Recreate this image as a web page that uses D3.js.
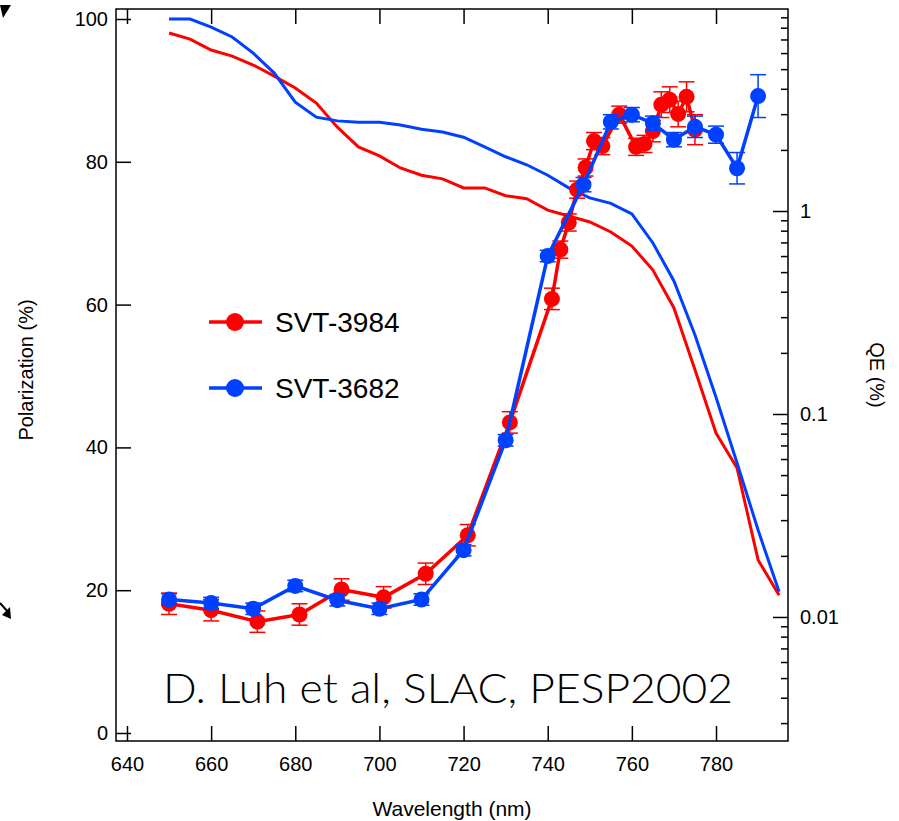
<!DOCTYPE html>
<html>
<head>
<meta charset="utf-8">
<script src="https://cdn.jsdelivr.net/npm/d3@7"></script>
<style>
    body { margin: 0; background: #fff; }
    svg text { font-family: Arial, "Liberation Sans", sans-serif; fill: #000; }
    .axis path.domain { display: none; }
    .axis line { stroke: #000; stroke-width: 1.5; }
</style>
</head>
<body>
<div id="chart"></div>
<script>
// polarization data (left axis)
const redWave = [650, 660, 671, 681, 691, 701, 711, 721, 731, 741, 743, 745, 747, 749, 751, 753, 757, 761, 763, 765, 767, 769, 771, 773, 775];
const redPol  = [18.1, 17.2, 15.6, 16.6, 20.1, 19.0, 22.3, 27.7, 43.5, 60.8, 67.7, 71.5, 76.1, 79.2, 82.9, 82.2, 86.6, 82.1, 82.5, 84.3, 88.0, 88.7, 86.7, 89.1, 84.5];
const redErr  = [1.5, 1.5, 1.5, 1.5, 1.5, 1.5, 1.5, 1.5, 1.5, 1.5, 1.2, 1.2, 1.2, 1.2, 1.2, 1.2, 1.2, 1.2, 1.2, 1.5, 1.8, 1.8, 1.8, 2.1, 2.1];

const blueWave = [650, 660, 670, 680, 690, 700, 710, 720, 730, 740, 748.5, 755, 760, 765, 770, 775, 780, 785, 790];
const bluePol  = [18.7, 18.2, 17.4, 20.6, 18.6, 17.4, 18.7, 25.6, 41.0, 66.8, 76.8, 85.6, 86.6, 85.4, 83.1, 84.9, 83.8, 79.1, 89.2];
const blueErr  = [0.8, 0.8, 0.8, 0.8, 0.8, 0.8, 0.8, 0.8, 0.8, 0.8, 1.0, 1.0, 1.0, 1.0, 1.0, 1.5, 1.2, 2.2, 3.0];

// quantum efficiency curves (right log axis)
const qeWave = [650, 655, 660, 665, 670, 675, 680, 685, 690, 695, 700, 705, 710, 715, 720, 725, 730, 735, 740, 745, 750, 755, 760, 765, 770, 775, 780, 785, 790, 795];
const qeRed  = [7.53, 7.03, 6.21, 5.80, 5.24, 4.62, 4.04, 3.40, 2.59, 2.07, 1.87, 1.63, 1.50, 1.44, 1.30, 1.30, 1.19, 1.15, 1.01, 0.945, 0.883, 0.788, 0.672, 0.512, 0.333, 0.165, 0.0806, 0.0542, 0.0191, 0.0128];
const qeBlue = [8.83, 8.83, 8.06, 7.20, 6.00, 4.78, 3.44, 2.90, 2.78, 2.74, 2.74, 2.65, 2.53, 2.45, 2.31, 2.07, 1.85, 1.69, 1.50, 1.30, 1.16, 1.09, 0.967, 0.696, 0.452, 0.245, 0.121, 0.0574, 0.0268, 0.0133];

// ticks
const xTicks = [640, 660, 680, 700, 720, 740, 760, 780];
const polTicks = [0, 20, 40, 60, 80, 100];
const qeMajor = [0.01, 0.1, 1];

const seriesNames = ["SVT-3984", "SVT-3682"];
const red = "#ff0000", blue = "#0040ff";

const W = 899, H = 821;
const frame = {left: 116, right: 788, top: 9, bottom: 741};

const svg = d3.select("#chart").append("svg")
    .attr("width", W)
    .attr("height", H);

// scales
const x = d3.scaleLinear().domain([637.39, 797.11]).range([frame.left, frame.right]);
const yPol = d3.scaleLinear().domain([-1.12, 101.4]).range([frame.bottom, frame.top]);
const yQE = d3.scaleLog().domain([0.002449, 9.89]).range([frame.bottom, frame.top]);

// axes, ticks point inward
svg.append("g").attr("class", "axis")
    .attr("transform", `translate(${frame.left},0)`)
    .call(d3.axisLeft(yPol).tickValues(polTicks).tickSizeInner(-15).tickSizeOuter(0).tickPadding(8))
    .selectAll("text").style("font-size", "20px");

svg.append("g").attr("class", "axis")
    .attr("transform", `translate(0,${frame.bottom})`)
    .call(d3.axisBottom(x).tickValues(xTicks).tickSizeInner(-15).tickSizeOuter(0).tickPadding(16))
    .selectAll("text").style("font-size", "20px");

svg.append("g").attr("class", "axis")
    .attr("transform", `translate(0,${frame.top})`)
    .call(d3.axisTop(x).tickValues(xTicks).tickSizeInner(-15).tickSizeOuter(0).tickFormat(""));

// minor log ticks
const qeMinor = yQE.ticks().filter(t => qeMajor.indexOf(t) < 0);
svg.append("g").attr("class", "axis")
    .attr("transform", `translate(${frame.right},0)`)
    .call(d3.axisRight(yQE).tickValues(qeMinor).tickSizeInner(-7).tickSizeOuter(0).tickFormat(""));

svg.append("g").attr("class", "axis")
    .attr("transform", `translate(${frame.right},0)`)
    .call(d3.axisRight(yQE).tickValues(qeMajor).tickSizeInner(-15).tickSizeOuter(0).tickPadding(12).tickFormat(d3.format("~g")))
    .selectAll("text").style("font-size", "20px");

// frame
svg.append("rect")
    .attr("x", frame.left).attr("y", frame.top)
    .attr("width", frame.right - frame.left)
    .attr("height", frame.bottom - frame.top)
    .attr("fill", "none").attr("stroke", "#000").attr("stroke-width", 1.5);

// axis titles
svg.append("text")
    .attr("transform", `translate(33,370) rotate(-90)`)
    .attr("text-anchor", "middle")
    .style("font-size", "20px")
    .text("Polarization (%)");

svg.append("text")
    .attr("transform", `translate(870,375) rotate(90)`)
    .attr("text-anchor", "middle")
    .style("font-size", "20px")
    .text("QE (%)");

svg.append("text")
    .attr("x", 452).attr("y", 816)
    .attr("text-anchor", "middle")
    .style("font-size", "21px")
    .text("Wavelength (nm)");

// QE lines
const qeLine = d3.line().x(d => x(d[0])).y(d => yQE(d[1]));
svg.append("path")
    .datum(qeWave.map((w, i) => [w, qeRed[i]]))
    .attr("d", qeLine)
    .attr("fill", "none").attr("stroke", red).attr("stroke-width", 3);
svg.append("path")
    .datum(qeWave.map((w, i) => [w, qeBlue[i]]))
    .attr("d", qeLine)
    .attr("fill", "none").attr("stroke", blue).attr("stroke-width", 3);

// polarization series with error bars
function drawSeries(wave, pol, err, color) {
    let data = wave.map((w, i) => ({w: w, p: pol[i], e: err[i]}));
    let g = svg.append("g");

    g.append("path")
        .datum(data)
        .attr("d", d3.line().x(d => x(d.w)).y(d => yPol(d.p)))
        .attr("fill", "none").attr("stroke", color).attr("stroke-width", 3.5);

    let bars = g.selectAll(".err").data(data).enter().append("g")
        .attr("stroke", color).attr("stroke-width", 1.5);
    bars.append("line")
        .attr("x1", d => x(d.w)).attr("x2", d => x(d.w))
        .attr("y1", d => yPol(d.p - d.e)).attr("y2", d => yPol(d.p + d.e));
    bars.append("line")
        .attr("x1", d => x(d.w) - 8).attr("x2", d => x(d.w) + 8)
        .attr("y1", d => yPol(d.p - d.e)).attr("y2", d => yPol(d.p - d.e));
    bars.append("line")
        .attr("x1", d => x(d.w) - 8).attr("x2", d => x(d.w) + 8)
        .attr("y1", d => yPol(d.p + d.e)).attr("y2", d => yPol(d.p + d.e));

    g.selectAll("circle").data(data).enter().append("circle")
        .attr("cx", d => x(d.w))
        .attr("cy", d => yPol(d.p))
        .attr("r", 8)
        .attr("fill", color);
}
drawSeries(redWave, redPol, redErr, red);
drawSeries(blueWave, bluePol, blueErr, blue);

// legend
const legend = svg.append("g");
[red, blue].forEach((c, i) => {
    let ly = 322 + i * 66;
    legend.append("line")
        .attr("x1", 209).attr("x2", 262).attr("y1", ly).attr("y2", ly)
        .attr("stroke", c).attr("stroke-width", 3.5);
    legend.append("circle").attr("cx", 235).attr("cy", ly).attr("r", 9).attr("fill", c);
    legend.append("text")
        .attr("x", 275).attr("y", ly + 10)
        .style("font-size", "28px")
        .text(seriesNames[i]);
});

// citation
svg.append("text")
    .attr("x", 163).attr("y", 703)
    .attr("textLength", 570)
    .attr("lengthAdjust", "spacingAndGlyphs")
    .style("font-family", "'Century Gothic', Lato, 'DejaVu Sans', sans-serif")
    .style("font-weight", 300)
    .style("font-size", "41px")
    .text("D. Luh et al, SLAC, PESP2002");

// little arrow fragments at the left edge
svg.append("path").attr("d", "M0,5 L11,5 L3,18 Z").attr("fill", "#000");
svg.append("path").attr("d", "M0,603 L8,612").attr("stroke", "#000").attr("stroke-width", 2);
svg.append("path").attr("d", "M11,619 L2,615 L10,607 Z").attr("fill", "#000");
</script>
</body>
</html>
